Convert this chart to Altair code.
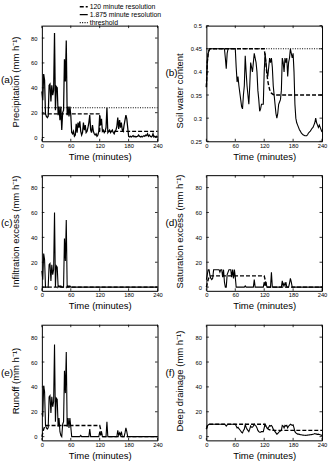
import altair as alt
import pandas as pd

# 1.875-minute model output, 0-240 minutes
STEP = 1.875
TIME = [i * STEP for i in range(129)]

# (a) precipitation, mm/h
PRECIP = [37, 30, 51, 46, 19, 17, 16, 17, 42, 43,
          29, 42, 34, 38, 84, 22, 41, 40, 18, 25,
          14, 25, 6, 20, 22, 63, 45, 78, 18, 25,
          17, 25, 18, 4, 3, 5, 1, 2, 11, 4,
          12, 8, 13, 5, 2, 4, 12, 6, 10, 4,
          5, 8, 12, 18, 6, 4, 10, 5, 3, 2,
          3, 1, 2, 5, 18, 10, 15, 5, 6, 4,
          5, 8, 24, 4, 5, 6, 4, 5, 6, 4,
          3, 5, 6, 9, 16, 7, 14, 8, 12, 6,
          5, 10, 14, 18, 15, 8, 1, 0.5, 1, 0.5,
          1, 1.5, 0.5, 1, 0.5, 0.8, 1, 2, 1, 0.5,
          1, 0.5, 1, 1.5, 1, 2, 1.5, 3, 1, 2,
          1, 0.5, 1, 3, 0.5, 1, 0.5, 1, 0.5]

# (b) soil water content
SWC = [0.367, 0.42, 0.44, 0.447, 0.45, 0.45, 0.45, 0.45, 0.45, 0.45,
       0.45, 0.45, 0.45, 0.45, 0.45, 0.45, 0.45, 0.45, 0.45, 0.45,
       0.45, 0.43, 0.407, 0.44, 0.45, 0.45, 0.45, 0.45, 0.45, 0.45,
       0.45, 0.45, 0.45, 0.41, 0.378, 0.39, 0.37, 0.355, 0.34, 0.325,
       0.32, 0.35, 0.37, 0.435, 0.40, 0.37, 0.35, 0.33, 0.37, 0.42,
       0.41, 0.40, 0.42, 0.44, 0.43, 0.42, 0.40, 0.36, 0.34, 0.315,
       0.32, 0.33, 0.33, 0.33, 0.40, 0.44, 0.42, 0.40, 0.39, 0.41,
       0.43, 0.42, 0.43, 0.41, 0.37, 0.35, 0.33, 0.31, 0.30, 0.31,
       0.33, 0.335, 0.34, 0.36, 0.43, 0.42, 0.40, 0.43, 0.42, 0.43,
       0.39, 0.42, 0.43, 0.45, 0.44, 0.43, 0.44, 0.40, 0.33, 0.30,
       0.29, 0.285, 0.28, 0.275, 0.272, 0.268, 0.266, 0.264, 0.263, 0.262,
       0.262, 0.262, 0.264, 0.268, 0.27, 0.272, 0.275, 0.278, 0.28, 0.285,
       0.29, 0.30, 0.29, 0.285, 0.28, 0.285, 0.28, 0.275, 0.27]

# (c) infiltration excess, mm/h
INFIL = [13, 6, 27, 22, 0, 0, 0, 0, 18, 19,
         5, 18, 10, 14, 60, 0, 17, 16, 0, 1,
         0, 1, 0, 0, 0, 39, 21, 54, 0, 1,
         0, 1, 0, 0, 0, 0, 0, 0, 0, 0,
         0, 0, 0, 0, 0, 0, 0, 0, 0, 0,
         0, 0, 0, 0, 0, 0, 0, 0, 0, 0,
         0, 0, 0, 0, 0, 0, 0, 0, 0, 0,
         0, 0, 0, 0, 0, 0, 0, 0, 0, 0,
         0, 0, 0, 0, 0, 0, 0, 0, 0, 0,
         0, 0, 0, 0, 0, 0, 0, 0, 0, 0,
         0, 0, 0, 0, 0, 0, 0, 0, 0, 0,
         0, 0, 0, 0, 0, 0, 0, 0, 0, 0,
         0, 0, 0, 0, 0, 0, 0, 0, 0]

# (d) saturation excess, mm/h
SATEX = [6, 10, 14, 14, 9, 7, 6, 7, 14, 14,
         14, 14, 14, 14, 14, 12, 14, 14, 8, 14,
         4, 0, 0, 10, 12, 14, 14, 14, 8, 14,
         7, 14, 8, 0, 0, 0, 0, 0, 0, 0,
         0, 0, 0, 1, 0, 0, 0, 0, 0, 0,
         0, 0, 0, 6, 0, 0, 0, 0, 0, 0,
         0, 0, 0, 0, 4, 1, 4, 0, 0, 0,
         0, 0, 12, 0, 0, 0, 0, 0, 0, 0,
         0, 0, 0, 0, 5, 1, 3, 1, 4, 0,
         0, 0, 3, 7, 4, 0, 0, 0, 0, 0,
         0, 0, 0, 0, 0, 0, 0, 0, 0, 0,
         0, 0, 0, 0, 0, 0, 0, 0, 0, 0,
         0, 0, 0, 0, 0, 0, 0, 0, 0]

# (e) runoff, mm/h
RUNOFF = [19, 16, 41, 36, 9, 7, 6, 7, 32, 33,
          19, 32, 24, 28, 74, 12, 31, 30, 8, 15,
          4, 1, 0, 10, 12, 53, 35, 68, 8, 15,
          7, 15, 8, 0, 0, 0, 0, 0, 0, 0,
          0, 0, 0, 1, 0, 0, 0, 0, 0, 0,
          0, 0, 0, 6, 0, 0, 0, 0, 0, 0,
          0, 0, 0, 0, 4, 1, 4, 0, 0, 0,
          0, 0, 12, 0, 0, 0, 0, 0, 0, 0,
          0, 0, 0, 0, 5, 1, 3, 1, 4, 0,
          0, 0, 3, 7, 4, 0, 0, 0, 0, 0,
          0, 0, 0, 0, 0, 0, 0, 0, 0, 0,
          0, 0, 0, 0, 0, 0, 0, 0, 0, 0,
          0, 0, 0, 0, 0, 0, 0, 0, 0]

# (f) deep drainage, mm/h
DRAIN = [6, 8.5, 9.5, 10, 10, 10, 10, 10, 10, 10,
         10, 10, 10, 10, 10, 10, 10, 10, 10, 10,
         10, 9.5, 8.5, 9.5, 10, 10, 10, 10, 10, 10,
         10, 10, 10, 8.5, 7, 7.5, 6.5, 5.5, 4.5, 3.5,
         3, 5, 6, 9.5, 7.5, 6, 5, 4, 6, 8.5,
         7.5, 7.5, 8.5, 10, 9, 8.5, 7, 5, 4, 3.5,
         3.5, 4, 4, 4, 7, 10, 8.5, 7, 6.5, 7.5,
         9, 8.5, 9, 8, 6, 5, 4, 3, 2, 2.5,
         3.5, 4, 4.5, 5, 9, 8.5, 7, 9, 8.5, 9,
         7, 8.5, 9, 10, 9.5, 9, 9.5, 7, 4, 3,
         2.5, 2, 2, 1.8, 1.6, 1.5, 1.3, 1.2, 1.1, 1.1,
         1, 1.1, 1.2, 1.3, 1.4, 1.5, 1.6, 1.7, 1.9, 2.1,
         2.5, 2.2, 2, 1.8, 2, 1.8, 1.5, 1.2, 1]

# 120-minute model output (time, value)
PRECIP_120_T = [0, 120, 120, 240]
PRECIP_120_V = [19, 19, 5, 5]
SWC_120_T = [0, 1.875, 3.75, 5.625, 7.5, 120, 121.875, 123.75, 125.625, 127.5,
             129.375, 131.25, 133.125, 135, 138.75, 142.5, 240]
SWC_120_V = [0.367, 0.42, 0.44, 0.447, 0.45, 0.45, 0.435, 0.415, 0.395, 0.38,
             0.37, 0.362, 0.357, 0.354, 0.351, 0.35, 0.35]
INFIL_120_T = [0, 240]
INFIL_120_V = [0, 0]
SATEX_120_T = [0, 1.875, 3.75, 5.625, 7.5, 120, 121.875, 123.75, 125.625, 240]
SATEX_120_V = [0, 3, 6, 8, 9, 9, 6, 2, 0, 0]
RUNOFF_120_T = [0, 1.875, 3.75, 5.625, 7.5, 120, 121.875, 123.75, 125.625, 240]
RUNOFF_120_V = [0, 3, 6, 8, 9, 9, 6, 2, 0, 0]
DRAIN_120_T = [0, 1.875, 3.75, 5.625, 120, 121.875, 123.75, 125.625, 127.5,
               129.375, 131.25, 135, 140.625, 240]
DRAIN_120_V = [6, 8.5, 9.5, 10, 10, 9.2, 8, 7, 6.3, 5.8, 5.5, 5.2, 5, 5]

INFIL_CAPACITY = 24
SATURATION = 0.45

SERIES = ["120 minute resolution", "1.875 minute resolution", "threshold"]
X_TICKS = [0, 60, 120, 180, 240]
RATE_TICKS = [0, 20, 40, 60, 80]
SWC_TICKS = [0.25, 0.3, 0.35, 0.4, 0.45, 0.5]
RATE_DOMAIN = [-3, 90]
SWC_DOMAIN = [0.25, 0.5]

W = H = 116
TICK = 2.5
FONT = "Liberation Sans"
RATE_UNIT = " (mm h\u207b\u00b9)"
DASH_W, SOLID_W, DOT_W = 1.4, 1.1, 1.0


def xenc():
    return alt.X("t:Q", scale=alt.Scale(domain=[0, 240], nice=False, zero=False),
                 axis=alt.Axis(values=X_TICKS, title="Time (minutes)", titleY=10,
                               labelPadding=1, labelFlush=False))


def yenc(cfg):
    return alt.Y("v:Q", scale=alt.Scale(domain=cfg["domain"], nice=False, zero=False),
                 axis=alt.Axis(values=cfg["ticks"], title=cfg["title"], format=cfg["fmt"],
                               titleX=-21.5, titleY=cfg["title_y"], labelPadding=5,
                               labelFlush=False))


def inward_ticks(cfg):
    xt = alt.Chart(pd.DataFrame({"t": X_TICKS}))
    yt = alt.Chart(pd.DataFrame({"v": cfg["ticks"]}))
    rule = dict(color="black", strokeWidth=0.8)
    return [
        xt.mark_rule(**rule).encode(x=xenc(), y=alt.value(H), y2=alt.value(H - TICK)),
        xt.mark_rule(**rule).encode(x=xenc(), y=alt.value(0), y2=alt.value(TICK)),
        yt.mark_rule(**rule).encode(y=yenc(cfg), x=alt.value(0), x2=alt.value(TICK)),
        yt.mark_rule(**rule).encode(y=yenc(cfg), x=alt.value(W), x2=alt.value(W - TICK)),
    ]


def letter_label(cfg):
    return alt.Chart(pd.DataFrame({"lab": [cfg["letter"]]})).mark_text(
        align="left", baseline="middle", fontSize=10, font=FONT, color="black"
    ).encode(x=alt.value(-41), y=alt.value(cfg["letter_y"]), text="lab:N")


def panel(cfg):
    layers = []
    if cfg.get("legend"):
        rows = []
        for t, v in zip(cfg["dash_t"], cfg["dash_v"]):
            rows.append((SERIES[0], t, v))
        for t, v in zip(TIME, cfg["solid"]):
            rows.append((SERIES[1], t, v))
        for t in (0, 240):
            rows.append((SERIES[2], t, cfg["threshold"]))
        df = pd.DataFrame(rows, columns=["series", "t", "v"])
        df["idx"] = range(len(df))
        legend = alt.Legend(title=None, orient="none", legendX=37, legendY=-24,
                            symbolType="stroke", symbolSize=64, symbolStrokeWidth=1,
                            symbolStrokeColor="black", labelFontSize=6.9, labelFont=FONT,
                            labelColor="black", labelOffset=1, rowPadding=0, padding=0,
                            labelLimit=300)
        layers.append(
            alt.Chart(df).mark_line(color="black").encode(
                x=xenc(), y=yenc(cfg),
                strokeDash=alt.StrokeDash("series:N", scale=alt.Scale(
                    domain=SERIES, range=[[4, 2], [1, 0], [1, 1.4]]), legend=legend),
                strokeWidth=alt.StrokeWidth("series:N", scale=alt.Scale(
                    domain=SERIES, range=[DASH_W, SOLID_W, DOT_W]), legend=None),
                detail="series:N",
                order="idx:Q",
            )
        )
    else:
        dash_df = pd.DataFrame({"t": cfg["dash_t"], "v": cfg["dash_v"]})
        solid_df = pd.DataFrame({"t": TIME, "v": cfg["solid"]})
        layers.append(alt.Chart(dash_df).mark_line(color="black", strokeWidth=DASH_W,
                                                   strokeDash=[4, 2]).encode(x=xenc(), y=yenc(cfg)))
        layers.append(alt.Chart(solid_df).mark_line(color="black", strokeWidth=SOLID_W)
                      .encode(x=xenc(), y=yenc(cfg)))
        if cfg.get("threshold") is not None:
            th_df = pd.DataFrame({"t": [0, 240], "v": [cfg["threshold"]] * 2})
            layers.append(alt.Chart(th_df).mark_line(color="black", strokeWidth=DOT_W,
                                                     strokeDash=[1, 1.4]).encode(x=xenc(), y=yenc(cfg)))
    layers += inward_ticks(cfg)
    layers.append(letter_label(cfg))
    return alt.layer(*layers).properties(width=W, height=H)


rate = dict(domain=RATE_DOMAIN, ticks=RATE_TICKS, fmt="d", title_y=56)
panels = [
    dict(rate, letter="(a)", letter_y=55, title="Precipitation" + RATE_UNIT, solid=PRECIP,
         dash_t=PRECIP_120_T, dash_v=PRECIP_120_V, threshold=INFIL_CAPACITY, legend=True),
    dict(domain=SWC_DOMAIN, ticks=SWC_TICKS, fmt="~g", title_y=65, letter="(b)", letter_y=48,
         title="Soil water content", solid=SWC, dash_t=SWC_120_T, dash_v=SWC_120_V,
         threshold=SATURATION),
    dict(rate, letter="(c)", letter_y=48, title="Infiltration excess" + RATE_UNIT, solid=INFIL,
         dash_t=INFIL_120_T, dash_v=INFIL_120_V),
    dict(rate, letter="(d)", letter_y=48, title="Saturation excess" + RATE_UNIT, solid=SATEX,
         dash_t=SATEX_120_T, dash_v=SATEX_120_V),
    dict(rate, letter="(e)", letter_y=48, title="Runoff" + RATE_UNIT, solid=RUNOFF,
         dash_t=RUNOFF_120_T, dash_v=RUNOFF_120_V),
    dict(rate, letter="(f)", letter_y=48, title="Deep drainage" + RATE_UNIT, solid=DRAIN,
         dash_t=DRAIN_120_T, dash_v=DRAIN_120_V),
]
charts = [panel(p) for p in panels]

chart = alt.concat(*charts, columns=2, spacing={"row": 34, "column": 49},
                   bounds="flush").properties(
    padding={"left": 0, "top": 1, "right": 2, "bottom": 2}
).configure(font=FONT).configure_view(
    stroke="black", strokeWidth=1
).configure_axis(
    domain=False, ticks=False, grid=False,
    labelFont=FONT, labelFontSize=5.8, labelColor="black",
    titleFont=FONT, titleFontSize=9.5, titleFontWeight="normal", titleColor="black",
)

chart.save("out.html", embed_options={"renderer": "svg", "actions": False})
